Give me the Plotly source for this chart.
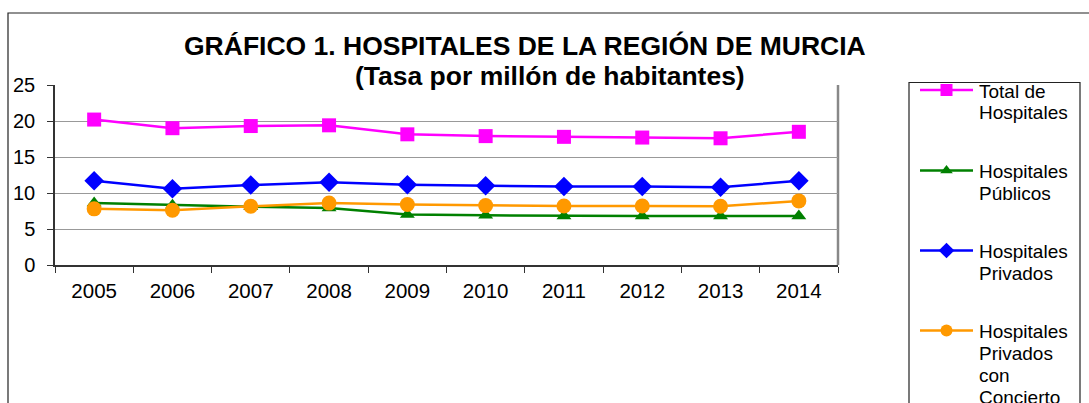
import plotly.graph_objects as go

W, H = 1089, 403

years = ["2005", "2006", "2007", "2008", "2009", "2010", "2011", "2012", "2013", "2014"]
total_hosp = [20.2, 19.0, 19.3, 19.4, 18.15, 17.9, 17.8, 17.7, 17.6, 18.5]
publicos = [8.6, 8.3, 8.1, 7.9, 7.0, 6.9, 6.8, 6.8, 6.8, 6.8]
privados = [11.7, 10.6, 11.1, 11.5, 11.15, 11.0, 10.9, 10.9, 10.8, 11.7]
concierto = [7.8, 7.6, 8.15, 8.6, 8.4, 8.25, 8.2, 8.2, 8.15, 8.9]

series_names = ["Total de Hospitales", "Hospitales Públicos", "Hospitales Privados",
                "Hospitales Privados con Concierto"]
legend_lines = [["Total de", "Hospitales"], ["Hospitales", "Públicos"],
                ["Hospitales", "Privados"], ["Hospitales", "Privados", "con", "Concierto"]]
y_ticks = [0, 5, 10, 15, 20, 25]

title1 = "GRÁFICO 1. HOSPITALES DE LA REGIÓN DE MURCIA"
title2 = "(Tasa por millón de habitantes)"

styles = [
    dict(color="#FF00FF", symbol="square", size=14, lsize=12),
    dict(color="#008000", symbol="triangle-up", size=13, lsize=11),
    dict(color="#0000FF", symbol="diamond", size=15, lsize=12),
    dict(color="#FF9900", symbol="circle", size=15, lsize=12),
]
data = [total_hosp, publicos, privados, concierto]

FONT = "Liberation Sans, Arial, sans-serif"

def px(x):
    return x / W

def py(y):
    return 1 - y / H

fig = go.Figure()

for name, vals, st in zip(series_names, data, styles):
    fig.add_trace(go.Scatter(
        x=years, y=vals, name=name, mode="lines+markers",
        line=dict(color=st["color"], width=2.5),
        marker=dict(symbol=st["symbol"], size=st["size"], color=st["color"]),
        showlegend=False, cliponaxis=False,
    ))

# Manual legend (overlay axis in pixel units)
leg_item_y = [90, 170.5, 250.5, 330.5]
for i, st in enumerate(styles):
    yy = leg_item_y[i]
    fig.add_trace(go.Scatter(
        x=[920, 946.5, 973], y=[yy, yy, yy], xaxis="x2", yaxis="y2",
        mode="lines", line=dict(color=st["color"], width=2.5),
        showlegend=False, hoverinfo="skip",
    ))
    fig.add_trace(go.Scatter(
        x=[946.5], y=[yy], xaxis="x2", yaxis="y2", mode="markers",
        marker=dict(symbol=st["symbol"], size=st["lsize"], color=st["color"]),
        showlegend=False, hoverinfo="skip",
    ))

annotations = [
    dict(text="<b>" + title1 + "</b>", x=px(525), y=py(46), xref="paper", yref="paper",
         xanchor="center", yanchor="middle", showarrow=False,
         font=dict(family=FONT, size=26.5, color="black")),
    dict(text="<b>" + title2 + "</b>", x=px(550), y=py(76), xref="paper", yref="paper",
         xanchor="center", yanchor="middle", showarrow=False,
         font=dict(family=FONT, size=26.5, color="black")),
]
for i, lines in enumerate(legend_lines):
    for j, t in enumerate(lines):
        annotations.append(dict(
            text=t, x=px(977), y=py(leg_item_y[i] + 1 + 22 * j), xref="paper", yref="paper",
            xanchor="left", yanchor="middle", showarrow=False,
            font=dict(family=FONT, size=19, color="black")))

shapes = [
    # outer chart border
    dict(type="rect", xref="paper", yref="paper", x0=px(8), x1=px(1100), y0=py(420), y1=py(13),
         line=dict(color="#222222", width=1.2), layer="below"),
    # plot area right border
    dict(type="line", xref="paper", yref="paper", x0=px(838), x1=px(838), y0=py(265), y1=py(85),
         line=dict(color="#888888", width=2.5), layer="below"),
    # legend box
    dict(type="rect", xref="paper", yref="paper", x0=px(909), x1=px(1080), y0=py(420), y1=py(82.5),
         line=dict(color="#222222", width=1.2), layer="below"),
]

fig.update_layout(
    width=W, height=H, autosize=False,
    margin=dict(l=0, r=0, t=0, b=0, pad=0),
    paper_bgcolor="white", plot_bgcolor="rgba(0,0,0,0)",
    font=dict(family=FONT, size=20, color="black"),
    xaxis=dict(
        domain=[px(55), px(838)], type="category", range=[-0.5, 9.5], automargin=False,
        showline=True, linecolor="#333333", linewidth=1.5,
        ticks="outside", tickson="boundaries", ticklen=6, tickcolor="#333333", tickwidth=1,
        ticklabelstandoff=7,
        showgrid=False, tickfont=dict(family=FONT, size=20.5, color="black"),
        fixedrange=True,
    ),
    yaxis=dict(
        domain=[py(265), py(85)], range=[0, 25], tickvals=y_ticks, automargin=False,
        showline=True, linecolor="#333333", linewidth=1.5,
        ticks="outside", ticklen=6, tickcolor="#333333", tickwidth=1,
        ticklabelstandoff=8,
        showgrid=True, gridcolor="#999999", gridwidth=1.2, zeroline=False,
        tickfont=dict(family=FONT, size=20, color="black"),
        fixedrange=True,
    ),
    xaxis2=dict(domain=[0, 1], range=[0, W], visible=False, anchor="y2",
                automargin=False, fixedrange=True),
    yaxis2=dict(domain=[0, 1], range=[H, 0], visible=False, anchor="x2",
                automargin=False, fixedrange=True),
    annotations=annotations,
    shapes=shapes,
)

fig.write_html("out.html", post_script="document.body.style.margin='0';",
               config={"displayModeBar": False})
